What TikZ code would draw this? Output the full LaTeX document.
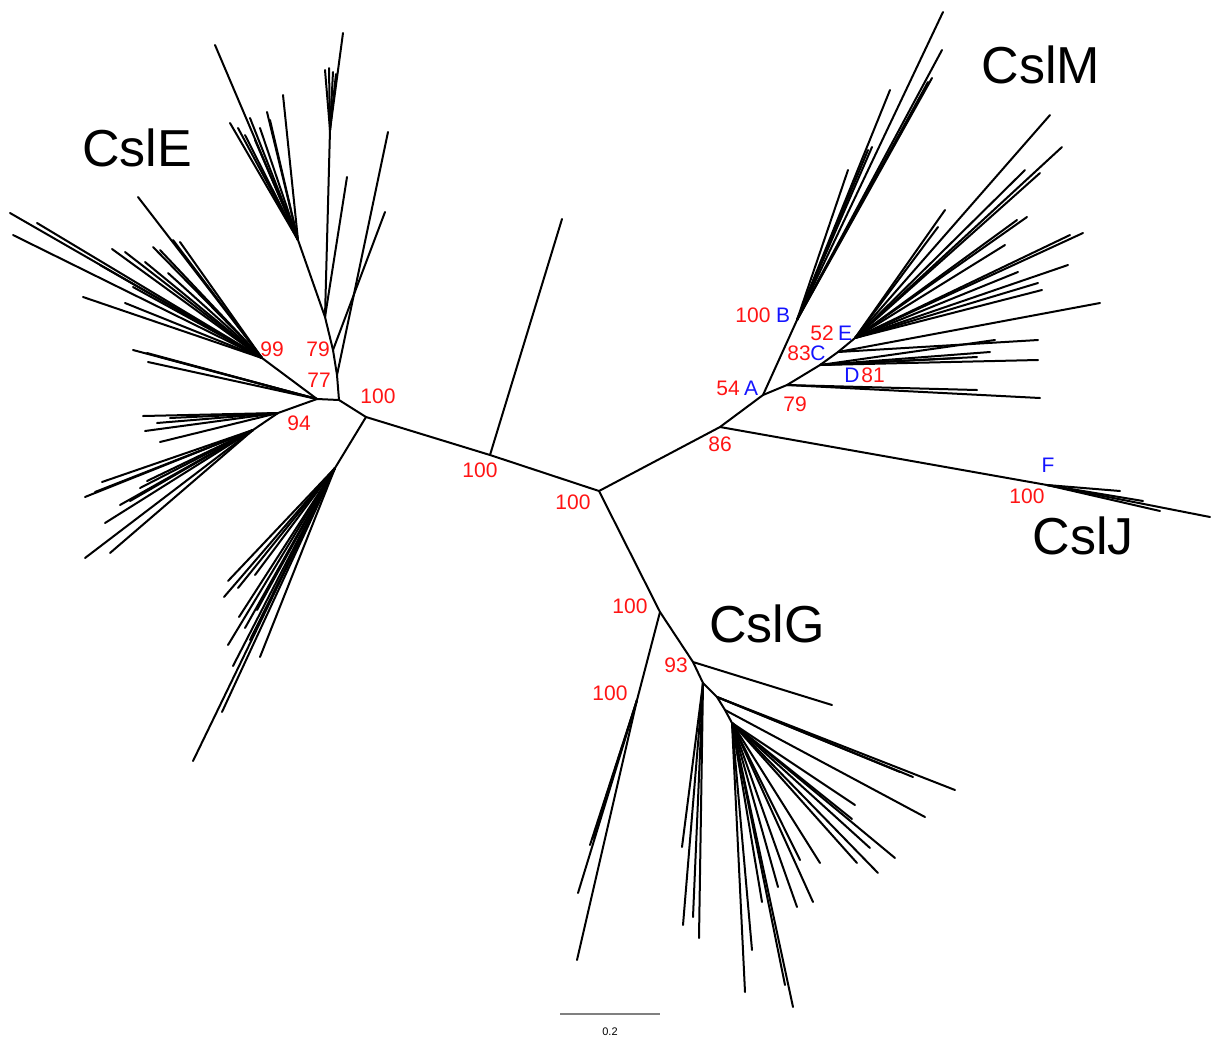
\documentclass[tikz,border=0pt]{standalone}
\usepackage{fontspec}
\setmainfont{Liberation Sans}
\definecolor{bsred}{RGB}{255,20,20}
\definecolor{lblue}{RGB}{20,20,255}
\definecolor{bargray}{RGB}{128,128,128}
\tikzset{
 br/.style={line width=2pt, line cap=round},
 bs/.style={text=bsred, font=\fontsize{21}{21}\selectfont, inner sep=0pt},
 nl/.style={text=lblue, font=\fontsize{21}{21}\selectfont, inner sep=0pt},
 clade/.style={font=\fontsize{52}{52}\selectfont, inner sep=0pt},
}
\newcommand\fanout[2]{\foreach \xx/\yy in {#2} \draw[br] (#1) -- (\xx,\yy);}
\begin{document}
\begin{tikzpicture}[x=1pt,y=-1pt]
\useasboundingbox (0,0) rectangle (1218,1037);
% internal nodes
\coordinate (C1) at (599,491);
\coordinate (C2) at (490,455);
\coordinate (T2) at (562,219);
\coordinate (L) at (366,417);
\coordinate (E1) at (339,400);
\coordinate (Ea) at (337,375);
\coordinate (Eb) at (333,350);
\coordinate (Ec) at (325,317);
\coordinate (Ed) at (298,240);
\coordinate (Ee) at (330,130);
\coordinate (E77) at (317,399);
\coordinate (E99) at (262,358);
\coordinate (N94) at (278,413);
\coordinate (N94b) at (253,430);
\coordinate (Lb) at (335,468);
\coordinate (R1) at (720,427);
\coordinate (A) at (763,395);
\coordinate (B) at (797,320);
\coordinate (N79) at (787,385);
\coordinate (D) at (820,365);
\coordinate (C) at (838,352);
\coordinate (E) at (855,338);
\coordinate (Fn) at (1047,485);
\coordinate (G1) at (660,612);
\coordinate (G1b) at (637,700);
\coordinate (G2) at (693,662);
\coordinate (G3) at (703,683);
\coordinate (G4) at (717,697);
\coordinate (G5) at (725,710);
\coordinate (G6) at (732,723);
% backbone
\draw[br] (C1) -- (C2) -- (L) -- (E1) -- (E77);
\draw[br] (C2) -- (T2);
\draw[br] (L) -- (Lb);
\draw[br] (E1) -- (Ea) -- (Eb) -- (Ec) -- (Ed);
\draw[br] (Ec) -- (Ee);
\draw[br] (E77) -- (E99);
\draw[br] (E77) -- (N94) -- (N94b);
\draw[br] (C1) -- (R1) -- (A) -- (B);
\draw[br] (R1) -- (Fn);
\draw[br] (A) -- (N79) -- (D) -- (C) -- (E);
\draw[br] (C1) -- (G1) -- (G2) -- (G3) -- (G4) -- (G5) -- (G6);
\draw[br] (G1) -- (G1b);
% CslE leaves
\fanout{E99}{10/213, 13/235, 37/223, 83/297, 125/303, 112/249, 125/252, 138/197, 153/247, 173/240, 168/273, 133/287, 145/262, 160/250, 180/242, 100/265}
\fanout{E77}{133/350, 147/353, 148/362, 160/357}
\fanout{N94}{143/416, 157/423, 145/431, 160/442, 170/418}
\fanout{N94b}{102/482, 95/492, 85/497, 147/481, 130/501, 105/523, 85/558, 110/553, 120/505, 140/488}
\fanout{Lb}{228/581, 224/597, 238/588, 255/575, 239/617, 257/610, 228/645, 260/657, 233/666, 222/712, 193/761, 245/628, 250/640}
\fanout{Ed}{215/45, 230/123, 267/112, 283/95, 245/135, 260/128, 238/128, 255/140, 270/120, 250/118}
\fanout{Ee}{343/33, 325/70, 333/72, 329/68, 336/74}
\fanout{Ec}{347/177}
\fanout{Eb}{385/212}
\fanout{Ea}{388/132}
% CslJ
\fanout{Fn}{1120/491, 1143/501, 1160/511, 1210/517}
% CslM
\fanout{B}{943/12, 942/50, 932/78, 928/82, 890/90, 872/147, 848/170, 868/150}
\fanout{N79}{977/390, 1040/398}
\fanout{D}{1038/360, 977/357, 990/352, 995/340, 960/358}
\fanout{C}{1038/340, 1100/303}
\fanout{E}{1050/115, 1062/147, 1025/170, 1040/173, 945/210, 938/227, 1027/217, 1017/220, 1005/245, 1083/233, 1068/265, 1018/272, 1038/283, 1042/290, 1070/235}
% CslG
\fanout{G1b}{578/893, 577/960, 590/845, 593/838}
\fanout{G2}{832/705}
\fanout{G3}{683/925, 682/847, 693/917, 699/938}
\fanout{G4}{955/790, 913/777, 900/772}
\fanout{G5}{925/817}
\fanout{G6}{855/805, 852/819, 895/858, 878/873, 870/848, 857/863, 820/863, 813/902, 797/907, 778/887, 800/860, 762/902, 752/950, 745/992, 793/1007, 785/985}
% clade names
\node[clade] (lE) at (137,148) {CslE};
\node[clade] (lM) at (1041,65) {CslM};
\node[clade] (lJ) at (1083,536) {CslJ};
\node[clade] (lG) at (767,624) {CslG};
% bootstrap values
\node[bs] (b1) at (480,470) {100};
\node[bs] (b2) at (573,502) {100};
\node[bs] (b3) at (378,396) {100};
\node[bs] (b4) at (272,349) {99};
\node[bs] (b5) at (318,349) {79};
\node[bs] (b6) at (319,380) {77};
\node[bs] (b7) at (299,423) {94};
\node[bs] (b8) at (753,315) {100};
\node[bs] (b9) at (822,333) {52};
\node[bs] (b10) at (799,353) {83};
\node[bs] (b11) at (873,375) {81};
\node[bs] (b12) at (728,388) {54};
\node[bs] (b13) at (795,404) {79};
\node[bs] (b14) at (720,444) {86};
\node[bs] (b15) at (1027,496) {100};
\node[bs] (b16) at (630,606) {100};
\node[bs] (b17) at (676,665) {93};
\node[bs] (b18) at (610,693) {100};
% node letters
\node[nl] (tA) at (751,388) {A};
\node[nl] (tB) at (783,315) {B};
\node[nl] (tC) at (818,353) {C};
\node[nl] (tD) at (852,375) {D};
\node[nl] (tE) at (845,333) {E};
\node[nl] (tF) at (1048,465) {F};
% scale bar
\coordinate (s0) at (560,1014);
\coordinate (s1) at (660,1014);
\draw[bargray, line width=1.8pt] (s0) -- (s1);
\node[font=\fontsize{11}{11}\selectfont, inner sep=0pt] (sl) at (610,1032) {0.2};
\end{tikzpicture}
\end{document}
